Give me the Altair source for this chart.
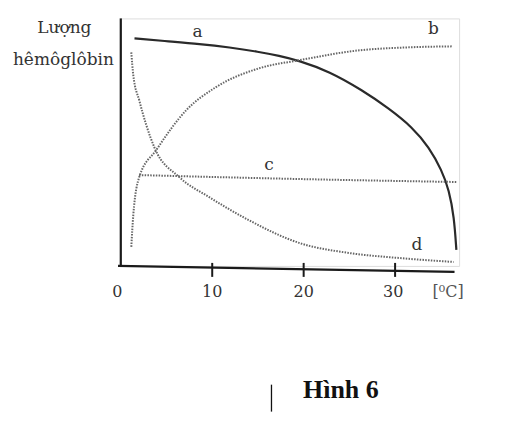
import altair as alt
import pandas as pd

# Temperature (°C) and relative haemoglobin amount (0-100)
a_t = [1.5, 5.3, 8.6, 11.9, 15.1, 17.3, 19.5, 22.8, 26.4, 29.3, 31.9, 33.7, 35.1, 35.9, 36.45, 36.7]
a_v = [91.9, 90.7, 89.7, 88.3, 86.5, 84.9, 82.9, 78.6, 71.0, 63.7, 56.0, 48.0, 38.7, 30.6, 19.8, 6.5]

b_t = [1.15, 1.37, 2.02, 3.88, 7.16, 10.4, 15.1, 19.5, 26.1, 31.5, 36.2]
b_v = [7.7, 20.6, 35.9, 46.8, 62.9, 72.2, 79.8, 83.1, 87.1, 88.3, 88.7]

c_t = [2.0, 19.5, 36.7]
c_v = [36.7, 35.1, 33.9]

d_t = [1.15, 1.37, 2.02, 2.79, 3.66, 6.39, 9.67, 14.0, 19.5, 25.0, 30.4, 36.4]
d_v = [86.3, 77.0, 66.9, 56.9, 48.0, 35.9, 27.8, 18.5, 9.3, 5.2, 3.2, 1.6]

curve_names = ["a", "b", "c", "d"]
label_t = [8.4, 34.2, 16.2, 32.4]
label_v = [94.4, 95.6, 40.7, 8.5]

tick_values = [10, 20, 30]
tick_labels = ["0", "10", "20", "30"]
tick_label_pos = [-0.38, 10, 20, 29.8]
unit_label = "[⁰C]"
y_title = ["Lượng", "hêmôglôbin"]
caption = "Hình 6"

X_MAX = 37
xs = alt.Scale(domain=[0, X_MAX], nice=False, zero=False)
ys = alt.Scale(domain=[0, 100], nice=False, zero=False)
SERIF = "DejaVu Serif"

a_df = pd.DataFrame({"t": a_t, "v": a_v})
dotted = pd.concat([
    pd.DataFrame({"t": b_t, "v": b_v, "s": "b"}),
    pd.DataFrame({"t": c_t, "v": c_v, "s": "c"}),
    pd.DataFrame({"t": d_t, "v": d_v, "s": "d"}),
])
labels_df = pd.DataFrame({"t": label_t, "v": label_v, "name": curve_names})
ticks_df = pd.DataFrame({"t": tick_values})
ticklab_df = pd.DataFrame({"t": tick_label_pos, "lab": tick_labels})

line_a = alt.Chart(a_df).mark_line(
    color="#2a2a2a", strokeWidth=2.2, interpolate="basis", clip=False
).encode(x=alt.X("t:Q", scale=xs, axis=None), y=alt.Y("v:Q", scale=ys, axis=None))

lines_dot = alt.Chart(dotted).mark_line(
    color="#666666", strokeWidth=2, strokeDash=[1.5, 1.3], interpolate="monotone", clip=False
).encode(
    x=alt.X("t:Q", scale=xs, axis=None),
    y=alt.Y("v:Q", scale=ys, axis=None),
    detail="s:N",
)

x_axis = alt.Chart(pd.DataFrame({"t0": [-0.3], "t1": [36.5], "v0": [0.0], "v1": [-2.4]})).mark_rule(
    color="#1a1a1a", strokeWidth=2.2
).encode(x=alt.X("t0:Q", scale=xs), x2="t1:Q", y=alt.Y("v0:Q", scale=ys), y2="v1:Q")

y_axis = alt.Chart(pd.DataFrame({"t": [0], "v0": [0], "v1": [100]})).mark_rule(
    color="#1a1a1a", strokeWidth=2.2
).encode(x=alt.X("t:Q", scale=xs), y=alt.Y("v0:Q", scale=ys), y2="v1:Q")

ticks = alt.Chart(ticks_df).mark_rule(color="#1a1a1a", strokeWidth=2).encode(
    x=alt.X("t:Q", scale=xs), y=alt.value(245), y2=alt.value(259)
)

tick_text = alt.Chart(ticklab_df).mark_text(
    font=SERIF, fontSize=16, color="#333", baseline="alphabetic"
).encode(x=alt.X("t:Q", scale=xs), y=alt.value(279), text="lab:N")

unit_text = alt.Chart(pd.DataFrame({"lab": [unit_label]})).mark_text(
    font=SERIF, fontSize=16, color="#555", baseline="alphabetic"
).encode(x=alt.value(328), y=alt.value(279), text="lab:N")

curve_labels = alt.Chart(labels_df).mark_text(
    font=SERIF, fontSize=17, color="#333", baseline="middle"
).encode(x=alt.X("t:Q", scale=xs), y=alt.Y("v:Q", scale=ys), text="name:N")

ytitle = alt.Chart(pd.DataFrame({"lab": y_title, "yy": [15, 47], "xx": [-56.5, -57.5]})).mark_text(
    font=SERIF, fontSize=17, color="#333", baseline="alphabetic"
).encode(x=alt.X("xx:Q", scale=None), y=alt.Y("yy:Q", scale=None), text="lab:N")

cap = alt.Chart(pd.DataFrame({"lab": [caption]})).mark_text(
    font="Liberation Serif", fontSize=26, fontWeight="bold", color="#111", baseline="alphabetic"
).encode(x=alt.value(220.5), y=alt.value(380), text="lab:N")

bar = alt.Chart(pd.DataFrame({"k": [0]})).mark_rule(color="#111", strokeWidth=1.3).encode(
    x=alt.value(151), y=alt.value(367), y2=alt.value(394)
)

chart = alt.layer(
    line_a, lines_dot, x_axis, y_axis, ticks, tick_text, unit_text,
    curve_labels, ytitle, cap, bar
).properties(
    width=339, height=248,
    autosize=alt.AutoSizeParams(type="none"),
    padding={"left": 113, "top": 10, "right": 55, "bottom": 160},
).configure_view(stroke=None).configure(background="white")

chart.save("out.html", embed_options={"renderer": "svg", "actions": False})
